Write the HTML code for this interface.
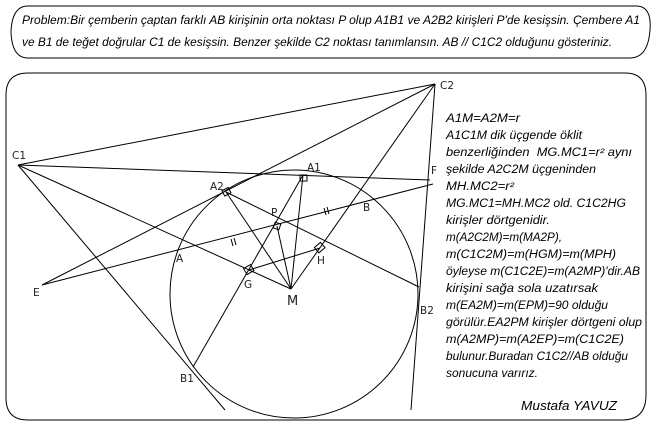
<!DOCTYPE html>
<html><head><meta charset="utf-8"><style>
html,body{margin:0;padding:0;background:#fff;width:656px;height:429px;overflow:hidden}
svg{display:block}
.t{font-family:"Liberation Sans",sans-serif;font-style:italic;font-size:11.5px;fill:#000}
.l{font-family:"DejaVu Sans","Liberation Sans",sans-serif;font-size:10.5px;fill:#222}
</style></head><body>
<svg width="656" height="429" viewBox="0 0 656 429" xmlns="http://www.w3.org/2000/svg">
<g fill="none" stroke="#000" stroke-width="1">
<path d="M28,6 H636 Q652,6 650,30 Q648,58 630,58 H28 Q12,58 11,32 Q12,6 28,6 Z"/>
<path d="M28,73 H625 Q646,73 646,95 V395 Q646,420 622,420 H28 Q6,420 6,398 V95 Q6,73 28,73 Z"/>
<circle cx="294" cy="294" r="124"/>
<line x1="18" y1="165" x2="435" y2="84"/>
<line x1="18" y1="165" x2="430" y2="180"/>
<line x1="18" y1="165" x2="291" y2="289"/>
<line x1="18" y1="165" x2="225" y2="410"/>
<line x1="42" y1="285" x2="435" y2="84"/>
<line x1="42" y1="285" x2="433" y2="184"/>
<line x1="435" y1="84" x2="411" y2="410"/>
<line x1="435" y1="84" x2="291" y2="289"/>
<line x1="303" y1="175" x2="193" y2="367"/>
<line x1="226" y1="192" x2="419" y2="287"/>
<line x1="226" y1="192" x2="291" y2="289"/>
<line x1="303" y1="175" x2="291" y2="289"/>
<line x1="277" y1="226" x2="291" y2="289"/>
<line x1="249" y1="270" x2="320" y2="248"/>
<rect x="300" y="175" width="7" height="6"/>
<rect x="274" y="223" width="6" height="6" transform="rotate(20 277 226)"/>
<rect x="223" y="189" width="7" height="6" transform="rotate(-28 226 192)"/>
<rect x="245" y="266" width="8" height="7" transform="rotate(-30 249 270)"/>
<rect x="316" y="244" width="8" height="7" transform="rotate(-40 320 248)"/>
<line x1="231" y1="239" x2="233" y2="246"/><line x1="234" y1="238" x2="236" y2="245"/>
<line x1="324" y1="208" x2="326" y2="215"/><line x1="327" y1="207" x2="329" y2="214"/>
</g>
<text class="t" x="22" y="24" textLength="618" lengthAdjust="spacingAndGlyphs">Problem:Bir çemberin çaptan farklı AB kirişinin orta noktası P olup A1B1 ve A2B2 kirişleri P'de kesişsin. Çembere A1</text>
<text class="t" x="22" y="46" textLength="590" lengthAdjust="spacingAndGlyphs">ve B1 de teğet doğrular C1 de kesişsin. Benzer şekilde C2 noktası tanımlansın. AB // C1C2 olduğunu gösteriniz.</text>
<g class="l">
<text x="12" y="159">C1</text>
<text x="440" y="89">C2</text>
<text x="307" y="171">A1</text>
<text x="210" y="190">A2</text>
<text x="271" y="216">P</text>
<text x="363" y="211">B</text>
<text x="431" y="174">F</text>
<text x="176" y="262">A</text>
<text x="33" y="296">E</text>
<text x="244" y="288">G</text>
<text x="317" y="264">H</text>
<text x="287" y="305" style="font-size:13px">M</text>
<text x="420" y="314">B2</text>
<text x="180" y="382">B1</text>
</g>
<g class="t">
<text x="446" y="122" textLength="74" lengthAdjust="spacingAndGlyphs">A1M=A2M=r</text>
<text x="446" y="139" textLength="136" lengthAdjust="spacingAndGlyphs">A1C1M dik üçgende öklit</text>
<text x="446" y="156" textLength="186" lengthAdjust="spacingAndGlyphs">benzerliğinden &#160;MG.MC1=r² aynı</text>
<text x="446" y="173" textLength="150" lengthAdjust="spacingAndGlyphs">şekilde A2C2M üçgeninden</text>
<text x="446" y="190" textLength="68" lengthAdjust="spacingAndGlyphs">MH.MC2=r²</text>
<text x="446" y="207" textLength="180" lengthAdjust="spacingAndGlyphs">MG.MC1=MH.MC2 old. C1C2HG</text>
<text x="446" y="224" textLength="104" lengthAdjust="spacingAndGlyphs">kirişler dörtgenidir.</text>
<text x="446" y="241" textLength="116" lengthAdjust="spacingAndGlyphs">m(A2C2M)=m(MA2P),</text>
<text x="446" y="258" textLength="170" lengthAdjust="spacingAndGlyphs">m(C1C2M)=m(HGM)=m(MPH)</text>
<text x="446" y="275" textLength="194" lengthAdjust="spacingAndGlyphs">öyleyse m(C1C2E)=m(A2MP)'dir.AB</text>
<text x="446" y="292" textLength="152" lengthAdjust="spacingAndGlyphs">kirişini sağa sola uzatırsak</text>
<text x="446" y="309" textLength="162" lengthAdjust="spacingAndGlyphs">m(EA2M)=m(EPM)=90 olduğu</text>
<text x="446" y="326" textLength="196" lengthAdjust="spacingAndGlyphs">görülür.EA2PM kirişler dörtgeni olup</text>
<text x="446" y="343" textLength="178" lengthAdjust="spacingAndGlyphs">m(A2MP)=m(A2EP)=m(C1C2E)</text>
<text x="446" y="360" textLength="182" lengthAdjust="spacingAndGlyphs">bulunur.Buradan C1C2//AB olduğu</text>
<text x="446" y="377" textLength="92" lengthAdjust="spacingAndGlyphs">sonucuna varırız.</text>
<text x="521" y="410" style="font-size:13px" textLength="96" lengthAdjust="spacingAndGlyphs">Mustafa YAVUZ</text>
</g>
</svg>
</body></html>
